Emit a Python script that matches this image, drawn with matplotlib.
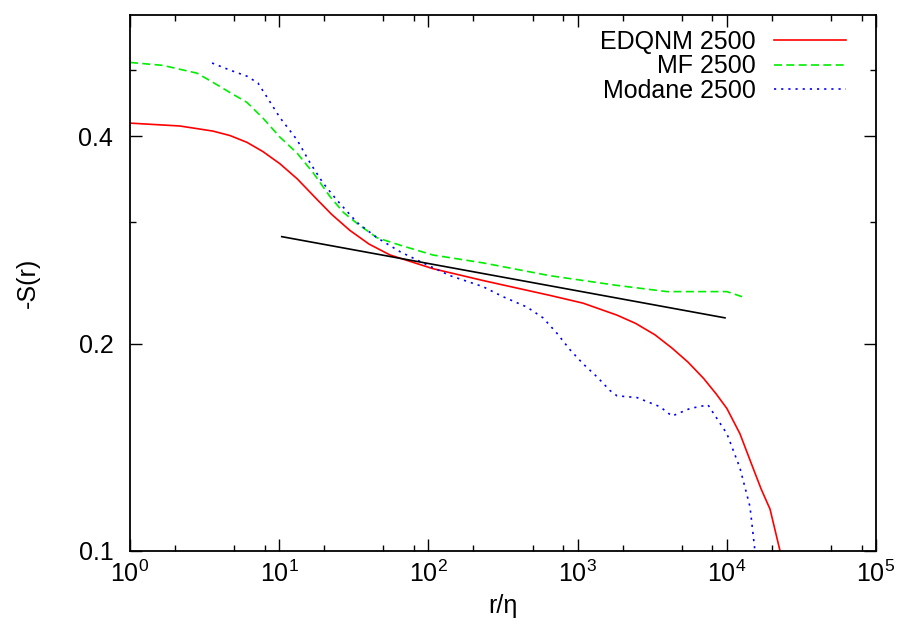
import matplotlib
matplotlib.use('Agg')
import matplotlib.pyplot as plt
from matplotlib.ticker import FixedLocator, LogLocator, NullFormatter, FixedFormatter

plt.rcParams['font.family'] = ['Liberation Sans', 'DejaVu Sans']
plt.rcParams['mathtext.fontset'] = 'custom'
plt.rcParams['mathtext.rm'] = 'Liberation Sans'
plt.rcParams['mathtext.it'] = 'Liberation Sans'

# EDQNM 2500
r_edqnm = [1, 2.16, 3.6, 4.68, 6.08, 7.79, 10.1, 13.2, 17.9, 22.5, 29.8, 40, 55.3, 107, 232,
           653, 1087, 1837, 2450, 3300, 4300, 5500, 7000, 8500, 10020, 12250, 14990, 17000,
           19500, 22750, 25000]
s_edqnm = [0.418, 0.414, 0.407, 0.401, 0.392, 0.380, 0.365, 0.347, 0.324, 0.308, 0.292,
           0.279, 0.269, 0.257, 0.247, 0.235, 0.229, 0.220, 0.214, 0.206, 0.197, 0.188,
           0.178, 0.169, 0.161, 0.148, 0.132, 0.123, 0.115, 0.100, 0.092]

# MF 2500
r_mf = [1, 1.66, 2.81, 3.6, 4.68, 6.08, 7.79, 10.1, 13.2, 16.9, 21.9, 27, 33.2, 45.2, 64.5,
        107, 232, 653, 1837, 3970, 6607, 10020, 12650]
s_mf = [0.512, 0.507, 0.494, 0.479, 0.463, 0.448, 0.425, 0.399, 0.378, 0.354, 0.327, 0.310,
        0.299, 0.285, 0.278, 0.269, 0.262, 0.251, 0.243, 0.238, 0.238, 0.238, 0.234]

# Modane 2500
r_mod = [3.55, 4.68, 6.08, 7.2, 8.28, 10.1, 13.2, 16.1, 19.7, 24.4, 33.2, 45.2, 64.5, 92,
         140, 232, 316, 458, 587, 728, 889, 1087, 1349, 1648, 1837, 2500, 3565, 4295, 5665,
         7480, 10020, 12250, 14300, 15450, 16500]
s_mod = [0.511, 0.499, 0.489, 0.478, 0.456, 0.426, 0.395, 0.366, 0.342, 0.323, 0.300, 0.285,
         0.272, 0.262, 0.251, 0.242, 0.234, 0.226, 0.218, 0.207, 0.196, 0.187, 0.179, 0.171,
         0.168, 0.167, 0.162, 0.157, 0.161, 0.163, 0.148, 0.132, 0.116, 0.100, 0.090]

# fitted power law segment
r_fit = [10.4, 9730]
s_fit = [0.286, 0.218]

fig = plt.figure(figsize=(8.99, 6.30), dpi=100)
ax = fig.add_axes([0.1446, 0.1254, 0.8298, 0.8508])

ax.plot(r_edqnm, s_edqnm, color='#ff0000', lw=1.2, label='EDQNM 2500')
ax.plot(r_mf, s_mf, color='#00ee00', lw=1.2, dashes=(4.8, 2.6), label='MF 2500')
ax.plot(r_mod, s_mod, color='#0000ff', lw=1.2, dashes=(1.3, 3.0), label='Modane 2500')
ax.plot(r_fit, s_fit, color='black', lw=1.2)

ax.set_xscale('log')
ax.set_yscale('log')
ax.set_xlim(1, 1e5)
ax.set_ylim(0.1, 0.6)

ax.xaxis.set_major_locator(LogLocator(base=10, numticks=10))
ax.xaxis.set_minor_locator(LogLocator(base=10, subs=(2, 5, 8), numticks=10))
ax.xaxis.set_minor_formatter(NullFormatter())

ax.yaxis.set_major_locator(FixedLocator([0.1, 0.2, 0.4]))
ax.yaxis.set_major_formatter(FixedFormatter(['0.1', '0.2', '0.4']))
ax.yaxis.set_minor_locator(FixedLocator([0.3, 0.5]))
ax.yaxis.set_minor_formatter(NullFormatter())

ax.tick_params(which='both', direction='in', top=True, right=True, labelsize=18, width=1.0)
ax.tick_params(which='major', length=8.5)
ax.tick_params(which='minor', length=4.5)
ax.tick_params(axis='x', which='major', pad=7)
ax.tick_params(axis='y', which='major', pad=12)
for sp in ax.spines.values():
    sp.set_linewidth(1.3)

ax.set_xlabel('r/η', fontsize=18, labelpad=5)
ax.set_ylabel('-S(r)', fontsize=18, labelpad=28)

ax.legend(loc='upper right', bbox_to_anchor=(0.98, 1.0), frameon=False, markerfirst=False,
          fontsize=18, handlelength=2.9, handletextpad=0.72, labelspacing=0.02,
          borderaxespad=0.2)

fig.savefig('out.png', dpi=100)
